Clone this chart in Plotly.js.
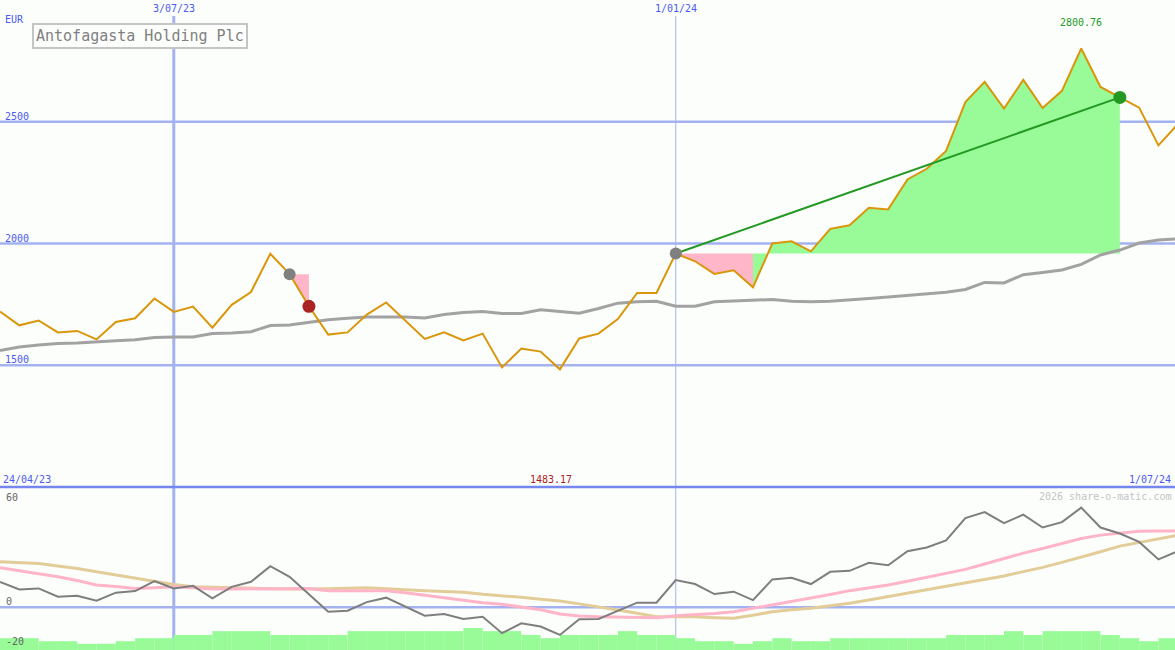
<!DOCTYPE html>
<html>
<head>
<meta charset="utf-8">
<script src="https://cdn.plot.ly/plotly-3.0.1.min.js"></script>
<style>
  html, body { margin: 0; padding: 0; background: #fcfefc; }
  #chart { width: 1175px; height: 650px; }
</style>
</head>
<body>
<div id="chart"></div>
<script>
// ---------- DATA ----------
const companyName = "Antofagasta Holding Plc";
const currency = "EUR";
const firstWeek = "2023-05-01";           // weekly closes, Mondays
const startLabel = "24/04/23";
const endLabel = "1/07/24";
const dateMarkers = ["2023-07-03", "2024-01-01"];
const dateMarkerLabels = ["3/07/23", "1/01/24"];
const priceLevels = [1500, 2000, 2500];

const price = [1721,1664,1684,1635,1641,1606,1678,1693,1774,1719,
               1741,1654,1748,1801,1958,1874,1742,1626,1635,1708,
               1758,1682,1608,1635,1602,1630,1491,1569,1556,1483.17,
               1610,1630,1690,1797,1797,1959,1927,1875,1890,1820,
               2000,2009,1968,2060,2075,2147,2140,2263,2307,2380,
               2581,2664,2554,2672,2556,2627,2800.76,2643,2600,2558,
               2403,2490];

const movingAverage = [1561,1575,1583,1589,1591,1597,1601,1605,1614,1616,
                       1616,1630,1632,1638,1663,1665,1675,1687,1693,1698,
                       1698,1698,1694,1708,1717,1721,1713,1713,1728,1721,
                       1714,1733,1755,1761,1763,1742,1742,1761,1765,1768,
                       1770,1763,1761,1763,1767,1774,1780,1786,1794,1800,
                       1811,1840,1838,1872,1881,1891,1914,1953,1973,2002,
                       2014,2019];

const momentum = [12.7,8.9,9.4,5.3,5.8,3.3,7.3,8.1,13.1,9.4,
                  10.7,4.5,10.2,12.7,20.5,15.2,6.5,-2.2,-1.7,2.6,
                  4.8,0.3,-4.2,-3.3,-5.8,-4.7,-12.9,-8,-9.6,-13.8,
                  -6,-5.8,-1.7,2.3,2.3,13.6,11.6,6.6,7.8,3.6,
                  13.9,14.7,11.6,17.7,18.2,22.2,21,28,29.8,33.4,
                  44.5,47.5,42,46.2,39.8,42.5,49.7,39.8,36.8,32.6,
                  23.9,28];

const momentumFast = [19.7,18.3,16.9,15.2,13.4,11.1,10.4,9.4,9.8,10.2,
                      9.7,9.1,9.1,9.1,9.2,9.4,9.4,8.3,8.3,8.3,
                      8.3,7.3,6,4.8,3.5,2.3,1.5,0.2,-1.2,-3.3,
                      -4.3,-4.7,-4.9,-5,-5.2,-4.2,-3.7,-3.1,-2.2,-0.5,
                      1.1,2.8,4.5,6.4,8.3,9.7,11.1,13,14.9,16.9,
                      18.9,21.6,24.4,27,29.3,31.8,34.3,36,37.1,37.9,
                      38.1,38.1];

const momentumSlow = [22.7,22.3,21.9,20.6,19.4,17.7,16.1,14.4,12.7,11.4,
                      10.2,9.9,9.7,9.5,9.3,9.1,9.1,9.3,9.5,9.7,
                      9.3,8.7,8.3,7.9,7.5,6.5,5.8,5,4,3.1,
                      1.7,0.3,-1.3,-3,-4.7,-4.7,-4.7,-5.2,-5.5,-4,
                      -2.2,-1.2,-0.5,0.8,2,3.6,5.3,7,8.6,10.2,
                      11.9,13.8,15.6,17.8,19.9,22.4,24.9,27.7,30.5,32.4,
                      34.3,35.9];

// weekly histogram tops (one per week interval), in oscillator units
const volumeTop = [-15.4,-15.4,-16.9,-16.9,-18.2,-18.2,-16.9,-15.4,-15.4,-13.8,
                   -13.8,-11.9,-11.9,-11.9,-13.8,-13.8,-13.8,-13.8,-11.9,-11.9,
                   -11.9,-11.9,-11.9,-11.9,-10.3,-11.9,-11.9,-13.8,-15.4,-13.8,
                   -13.8,-13.8,-11.9,-13.8,-13.8,-15.4,-16.9,-16.9,-18.2,-16.9,
                   -15.4,-16.9,-16.9,-15.4,-15.4,-15.4,-15.4,-15.4,-15.4,-13.8,
                   -13.8,-13.8,-11.9,-13.8,-11.9,-11.9,-11.9,-13.8,-15.4,-16.9,
                   -15.4];

// trades: entry / exit week indexes
const trades = [{entry: 15, exit: 16}, {entry: 35, exit: 58}];
const oscLevels = [0];
const oscLabels = ["60", "0", "-20"];
const oscLabelValues = [60, 0, -20];

// ---------- BUILD ----------
const DAY = 864e5;
const t0 = Date.parse(firstWeek + "T00:00:00Z");
const dates = price.map((_, i) => new Date(t0 + i * 7 * DAY).toISOString().slice(0, 10));
const barX = volumeTop.map((_, i) => new Date(t0 + i * 7 * DAY + 3.5 * DAY).toISOString().slice(0, 19));
const BAR_BASE = -30;

const GREEN_FILL = "#98fb98", PINK_FILL = "#ffb6c8";
const GRID = "#a4b2f2", LABEL = "#4a5af0";

const traces = [];

// trade shading
trades.forEach(tr => {
  const L = price[tr.entry];
  let k = tr.entry;
  while (k < tr.exit) {
    const up = price[k + 1] >= L;
    let e = k;
    while (e + 1 < tr.exit && (price[e + 2] >= L) === up) e++;
    const xs = [dates[k]], ys = [L];
    for (let j = k; j <= e + 1; j++) { xs.push(dates[j]); ys.push(price[j]); }
    xs.push(dates[e + 1]); ys.push(L);
    xs.push(dates[k]); ys.push(L);
    traces.push({type: "scatter", mode: "lines", x: xs, y: ys, fill: "toself",
      fillcolor: up ? GREEN_FILL : PINK_FILL, line: {width: 0}, hoverinfo: "skip",
      xaxis: "x", yaxis: "y"});
    k = e + 1;
  }
});

traces.push({type: "scatter", mode: "lines", x: dates, y: movingAverage,
  line: {color: "#a2a2a2", width: 3}, xaxis: "x", yaxis: "y"});
traces.push({type: "scatter", mode: "lines", x: dates, y: price,
  line: {color: "#d9960a", width: 2}, xaxis: "x", yaxis: "y"});

trades.forEach(tr => {
  const win = price[tr.exit] >= price[tr.entry];
  if (win) {
    traces.push({type: "scatter", mode: "lines",
      x: [dates[tr.entry], dates[tr.exit]], y: [price[tr.entry], price[tr.exit]],
      line: {color: "#229922", width: 2}, xaxis: "x", yaxis: "y"});
  }
  traces.push({type: "scatter", mode: "markers", x: [dates[tr.entry]], y: [price[tr.entry]],
    marker: {color: "#808080", size: 12}, xaxis: "x", yaxis: "y"});
  traces.push({type: "scatter", mode: "markers", x: [dates[tr.exit]], y: [price[tr.exit]],
    marker: {color: win ? "#229922" : "#aa2222", size: 13}, xaxis: "x", yaxis: "y"});
});

// lower panel
traces.push({type: "bar", x: barX, y: volumeTop.map(v => v - BAR_BASE), base: BAR_BASE,
  width: 7 * DAY, marker: {color: GREEN_FILL, line: {width: 0}}, xaxis: "x", yaxis: "y2"});
traces.push({type: "scatter", mode: "lines", x: dates, y: momentumSlow,
  line: {color: "#e2cc98", width: 3}, xaxis: "x", yaxis: "y2"});
traces.push({type: "scatter", mode: "lines", x: dates, y: momentumFast,
  line: {color: "#ffb4c8", width: 3}, xaxis: "x", yaxis: "y2"});
traces.push({type: "scatter", mode: "lines", x: dates, y: momentum,
  line: {color: "#7e7e7e", width: 2}, xaxis: "x", yaxis: "y2"});

const W = 1175, H = 650;
const px = v => v / W, py = v => 1 - v / H;
const SPLIT = 487;

const shapes = [];
dateMarkers.forEach((d, i) => {
  shapes.push({type: "line", xref: "x", yref: "paper", x0: d, x1: d, y0: 0, y1: py(16),
    line: {color: GRID, width: i === 0 ? 3 : 1}, layer: "below"});
});
priceLevels.forEach(v => shapes.push({type: "line", xref: "paper", yref: "y", x0: 0, x1: 1, y0: v, y1: v,
  line: {color: GRID, width: 2.5}, layer: "below"}));
oscLevels.forEach(v => shapes.push({type: "line", xref: "paper", yref: "y2", x0: 0, x1: 1, y0: v, y1: v,
  line: {color: GRID, width: 2.5}, layer: "below"}));
shapes.push({type: "line", xref: "paper", yref: "paper", x0: 0, x1: 1, y0: py(SPLIT), y1: py(SPLIT),
  line: {color: "#7586ee", width: 2.5}});

const mono = "DejaVu Sans Mono, monospace";
const ann = (text, x, y, opts) => Object.assign({text, xref: "paper", yref: "paper", x, y,
  showarrow: false, xanchor: "left", yanchor: "middle",
  font: {family: mono, size: 10, color: LABEL}}, opts || {});

const iMax = price.indexOf(Math.max(...price));
const iMin = price.indexOf(Math.min(...price));

const annotations = [
  ann(currency, px(3), py(19)),
  ...priceLevels.map(v => ({text: String(v), xref: "paper", yref: "y", x: px(3), y: v, yshift: 5.5,
    showarrow: false, xanchor: "left", yanchor: "middle", font: {family: mono, size: 10, color: LABEL}})),
  ...dateMarkers.map((d, i) => ({text: dateMarkerLabels[i], xref: "x", yref: "paper", x: d, y: py(9),
    showarrow: false, xanchor: "center", yanchor: "middle", font: {family: mono, size: 10, color: LABEL}})),
  {text: price[iMax].toFixed(2), xref: "x", yref: "paper", x: dates[iMax], y: py(22), showarrow: false,
    xanchor: "center", yanchor: "middle", font: {family: mono, size: 10, color: "#229922"}},
  {text: price[iMin].toFixed(2), xref: "x", yref: "paper", x: dates[iMin], xshift: -9, y: py(479), showarrow: false,
    xanchor: "center", yanchor: "middle", font: {family: mono, size: 10, color: "#aa2222"}},
  ann(startLabel, px(1), py(479)),
  ann(endLabel, px(1173), py(479), {xanchor: "right"}),
  ann("2026 share-o-matic.com", px(1173), py(496), {xanchor: "right",
    font: {family: mono, size: 10, color: "#c4c4c4"}}),
  ...oscLabels.map((t, i) => ({text: t, xref: "paper", yref: "y2", x: px(4), y: oscLabelValues[i],
    yshift: i === 0 ? -10 : 6, showarrow: false, xanchor: "left", yanchor: "middle",
    font: {family: mono, size: 10, color: "#666666"}})),
  {text: companyName, xref: "paper", yref: "paper", x: px(32), y: py(36), showarrow: false,
    xanchor: "left", yanchor: "middle", bordercolor: "#c4c4c4", borderwidth: 2, borderpad: 2,
    bgcolor: "#fcfefc", font: {family: mono, size: 15, color: "#808080"}}
];

const layout = {
  width: W, height: H,
  margin: {l: 0, r: 0, t: 0, b: 0},
  paper_bgcolor: "#fcfefc", plot_bgcolor: "#fcfefc",
  showlegend: false,
  xaxis: {type: "date", range: ["2023-05-01", "2024-06-30"], visible: false, fixedrange: true},
  yaxis: {domain: [py(SPLIT), 1], range: [1000, 3000], visible: false, fixedrange: true},
  yaxis2: {domain: [0, py(SPLIT)], range: [-21.3, 60], visible: false, fixedrange: true},
  barmode: "overlay",
  shapes, annotations
};

Plotly.newPlot("chart", traces, layout, {displayModeBar: false, staticPlot: true});
</script>
</body>
</html>
